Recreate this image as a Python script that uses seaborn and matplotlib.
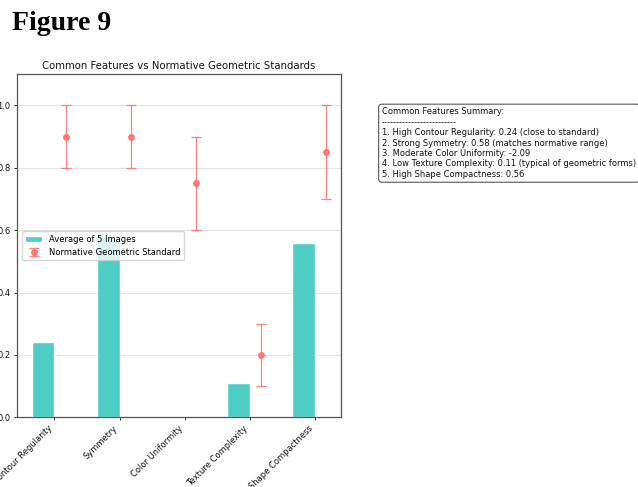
import numpy as np
import pandas as pd
import matplotlib
matplotlib.use("Agg")
import matplotlib.pyplot as plt
import seaborn as sns

# Feature names and measured averages over five images
features = ["Contour Regularity", "Symmetry", "Color Uniformity",
            "Texture Complexity", "Shape Compactness"]
avg_values = [0.24, 0.58, -2.09, 0.11, 0.56]

# Normative geometric standard (centre and half-range)
norm_values = [0.90, 0.90, 0.75, 0.20, 0.85]
norm_errors = [0.10, 0.10, 0.15, 0.10, 0.15]

y_ticks = [0.0, 0.2, 0.4, 0.6, 0.8, 1.0]

summary_lines = [
    "Common Features Summary:",
    "-" * 25,
    "1. High Contour Regularity: 0.24 (close to standard)",
    "2. Strong Symmetry: 0.58 (matches normative range)",
    "3. Moderate Color Uniformity: -2.09",
    "4. Low Texture Complexity: 0.11 (typical of geometric forms)",
    "5. High Shape Compactness: 0.56",
]

sns.set_style("white")
plt.rcParams["font.family"] = ["DejaVu Sans"]
plt.rcParams["text.color"] = "black"
plt.rcParams["axes.labelcolor"] = "black"

BAR_COLOR = "#4ECDC4"
ERR_COLOR = "#FF6B6B"
width = 0.35

fig = plt.figure(figsize=(6.38, 4.87), dpi=100)
ax = fig.add_axes([17 / 638, 1 - 417.3 / 487, (340.7 - 17) / 638, (417.3 - 74.3) / 487])

x = np.arange(len(features))
df = pd.DataFrame({"pos": x - width / 2, "value": avg_values})

sns.barplot(data=df, x="pos", y="value", native_scale=True, width=width,
            color=BAR_COLOR, saturation=1, errorbar=None, ax=ax,
            label="Average of 5 Images")

ax.errorbar(x + width / 2, norm_values, yerr=norm_errors, fmt="o",
            color=ERR_COLOR, ecolor=ERR_COLOR, markersize=4, capsize=3.5,
            elinewidth=0.9, capthick=0.9, alpha=0.85,
            label="Normative Geometric Standard")

ax.set_ylim(0, 1.1)
ax.set_xticks(x)
ax.set_xticklabels(features, rotation=45, ha="right", fontsize=6)
ax.set_yticks(y_ticks)
ax.set_yticklabels([f"{v:.1f}" for v in y_ticks], fontsize=6)
ax.set_xlabel("")
ax.set_ylabel("")
ax.tick_params(axis="both", length=2.5, width=0.7, pad=2.2, color="#333333",
               bottom=True, left=True, labelcolor="#111111")
ax.grid(axis="y", color="#e4e4e4", linewidth=0.8)
ax.set_axisbelow(True)
for sp in ax.spines.values():
    sp.set_color("#555555")
    sp.set_linewidth(0.9)
ax.set_title("Common Features vs Normative Geometric Standards",
             fontsize=7.3, pad=4, color="#111111")

ax.legend(loc="center left", fontsize=6, frameon=True, framealpha=0.8,
          edgecolor="#cccccc", borderaxespad=0.6)

fig.text(382 / 638, 1 - 107.5 / 487, "\n".join(summary_lines),
         fontsize=6, va="top", ha="left", color="#111111",
         bbox=dict(boxstyle="round,pad=0.4", facecolor="white",
                   edgecolor="#555555", linewidth=0.8))

fig.text(12 / 638, 1 - 29.5 / 487, "Figure 9", fontsize=20, fontweight="bold",
         family="Liberation Serif", va="baseline", ha="left", color="black")

fig.savefig("out.png", dpi=100)
